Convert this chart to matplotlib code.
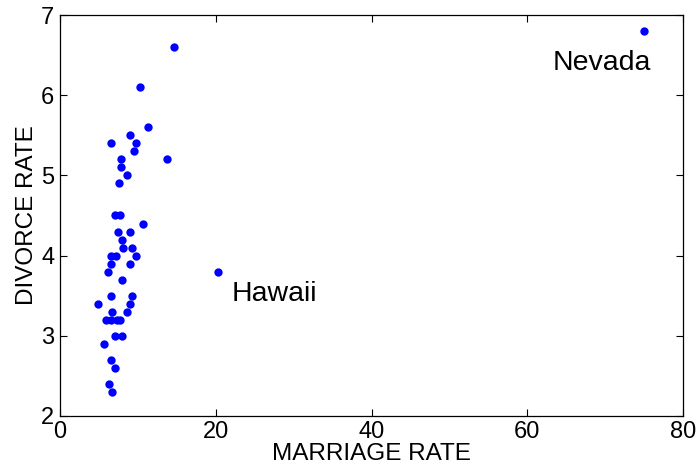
import matplotlib
matplotlib.use("Agg")
from matplotlib import pyplot as plt

# marriage / divorce rates per state
marriage = [75.0, 20.3, 14.7, 10.3, 11.3, 9.0, 6.6, 9.7, 9.5, 13.8,
            7.8, 7.8, 8.6, 7.6, 7.1, 7.7, 10.6, 7.5, 9.0, 7.9,
            8.1, 9.3, 6.6, 7.2, 9.8, 6.5, 9.0, 6.2, 8.0, 6.5,
            9.2, 4.9, 9.0, 6.7, 8.6, 5.9, 6.6, 7.3, 7.7, 7.0,
            7.9, 5.6, 6.5, 7.1, 6.3, 6.7]
divorce = [6.8, 3.8, 6.6, 6.1, 5.6, 5.5, 5.4, 5.4, 5.3, 5.2,
           5.2, 5.1, 5.0, 4.9, 4.5, 4.5, 4.4, 4.3, 4.3, 4.2,
           4.1, 4.1, 4.0, 4.0, 4.0, 3.9, 3.9, 3.8, 3.7, 3.5,
           3.5, 3.4, 3.4, 3.3, 3.3, 3.2, 3.2, 3.2, 3.2, 3.0,
           3.0, 2.9, 2.7, 2.6, 2.4, 2.3]

labels = ["Nevada", "Hawaii"]
label_pos = [(63.2, 6.4), (22.1, 3.52)]

xticks = [0, 20, 40, 60, 80]
yticks = [2, 3, 4, 5, 6, 7]

plt.rcParams['font.family'] = ['Liberation Sans', 'DejaVu Sans']

fig = plt.figure(figsize=(6.98, 4.69), dpi=100)
ax = fig.add_axes([60 / 698, 1 - 415.7 / 469, 623 / 698, 400.4 / 469])

ax.plot(marriage, divorce, 'o', color=(0, 0, 1), markersize=6.0, markeredgewidth=0)

for name, (tx, ty) in zip(labels, label_pos):
    ax.text(tx, ty, name, fontsize=20.5, va='center', ha='left')

ax.set_xlim(0, 80)
ax.set_ylim(2, 7)
ax.set_xticks(xticks)
ax.set_yticks(yticks)
ax.tick_params(direction='in', length=5, width=0.8, labelsize=17,
               top=True, right=True, pad=4)
for s in ax.spines.values():
    s.set_linewidth(0.9)

ax.set_xlabel("MARRIAGE RATE", fontsize=17.5, labelpad=0)
ax.set_ylabel("DIVORCE RATE", fontsize=17.5, labelpad=2)

fig.savefig("out.png", dpi=100)
